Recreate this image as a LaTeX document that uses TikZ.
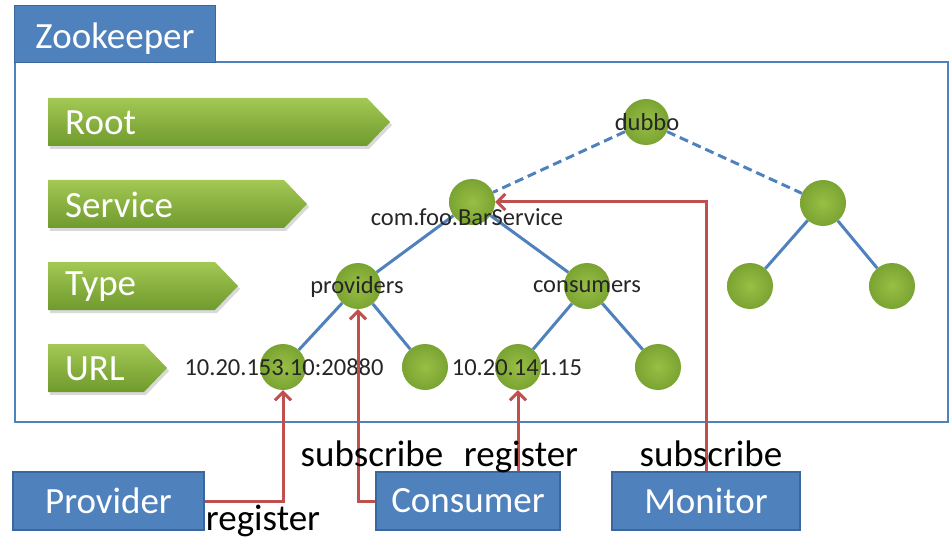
\documentclass[tikz,border=0pt]{standalone}
\usepackage{fontspec}
\setmainfont{Carlito}
\usetikzlibrary{arrows.meta}
\definecolor{zkblue}{HTML}{4F81BD}
\definecolor{zkborder}{HTML}{3A679E}
\definecolor{glight}{HTML}{A3C854}
\definecolor{gdark}{HTML}{6F9A2D}
\definecolor{ballin}{HTML}{98BF45}
\definecolor{ballout}{HTML}{7AA332}
\definecolor{arrred}{HTML}{C0504D}
\definecolor{txt}{HTML}{262626}
\begin{document}
\begin{tikzpicture}[x=1pt,y=-1pt,
  big/.style={font=\fontsize{37}{40}\selectfont},
  small/.style={font=\fontsize{24.5}{28}\selectfont, text=txt, inner sep=0pt},
  bluebox/.style={draw=zkborder, line width=1.5pt, fill=zkblue, text=white, inner sep=0pt, big},
  levelbar/.style={top color=glight, bottom color=gdark},
  barshadow/.style={fill=black, opacity=0.15},
  leveltext/.style={big, text=white, anchor=west, inner sep=0pt},
  ball/.style={circle, minimum size=46pt, inner sep=0pt, inner color=ballin, outer color=ballout},
  treeline/.style={draw=zkblue, line width=3pt},
  dashline/.style={draw=zkblue, line width=3pt, dash pattern=on 9pt off 5pt},
  redarrow/.style={draw=arrred, line width=3pt, -{Straight Barb[length=8pt,width=16pt]}},
]
\useasboundingbox (0,0) rectangle (952,545);

% main container
\node[draw=zkblue, line width=2.5pt, minimum width=933pt, minimum height=360pt, inner sep=0pt] (zkbox) at (481.5,242) {};
\node[bluebox, minimum width=201pt, minimum height=57pt, text depth=0pt] (zk) at (115,34) {\raisebox{-4pt}{Zookeeper}};

% level bars (soft shadows, then bars)
\path[barshadow] (50,101) -- (369,101) -- (392,125) -- (369,149) -- (50,149) -- cycle;
\path[barshadow] (50,183) -- (286,183) -- (309,207) -- (286,231) -- (50,231) -- cycle;
\path[barshadow] (50,265) -- (217,265) -- (240,289) -- (217,313) -- (50,313) -- cycle;
\path[barshadow] (50,347) -- (146,347) -- (169,371) -- (146,395) -- (50,395) -- cycle;
\path[levelbar] (48,98) -- (367,98) -- (390,122) -- (367,146) -- (48,146) -- cycle;
\node[leveltext] (root) at (65,123) {Root};
\path[levelbar] (48,180) -- (284,180) -- (307,204) -- (284,228) -- (48,228) -- cycle;
\node[leveltext] (service) at (65,205) {Service};
\path[levelbar] (48,262) -- (215,262) -- (238,286) -- (215,310) -- (48,310) -- cycle;
\node[leveltext] (type) at (65,287) {Type};
\path[levelbar] (48,344) -- (144,344) -- (167,368) -- (144,392) -- (48,392) -- cycle;
\node[leveltext] (url) at (65,369) {URL};

% tree nodes
\node[ball] (dubbo) at (646,122) {};
\node[ball] (svc) at (472,202) {};
\node[ball] (prov) at (358,286) {};
\node[ball] (cons) at (587,286) {};
\node[ball] (u1) at (283,367) {};
\node[ball] (u2) at (425,367) {};
\node[ball] (c1) at (518,367) {};
\node[ball] (c2) at (658,367) {};
\node[ball] (r) at (823,203) {};
\node[ball] (r1) at (750,286) {};
\node[ball] (r2) at (892,286) {};

% tree edges
\path[dashline] (dubbo) -- (svc);
\path[dashline] (dubbo) -- (r);
\path[treeline] (svc) -- (prov);
\path[treeline] (svc) -- (cons);
\path[treeline] (prov) -- (u1);
\path[treeline] (prov) -- (u2);
\path[treeline] (cons) -- (c1);
\path[treeline] (cons) -- (c2);
\path[treeline] (r) -- (r1);
\path[treeline] (r) -- (r2);

% tree labels
\node[small] (dubbolab) at (647,122) {dubbo};
\node[small] (svclab) at (467,217) {com.foo.BarService};
\node[small] (provlab) at (357,287) {providers};
\node[small] (conslab) at (587,287) {consumers};
\node[small] (u1lab) at (284,367) {10.20.153.10:20880};
\node[small] (c1lab) at (517,368) {10.20.141.15};

% client boxes
\node[bluebox, minimum width=191pt, minimum height=58pt] (provbox) at (108.5,501) {Provider};
\node[bluebox, minimum width=184pt, minimum height=58pt] (consbox) at (468,501) {Consumer};
\node[bluebox, minimum width=188pt, minimum height=58pt] (monbox) at (706,501) {Monitor};

% red connectors
\draw[redarrow] (provbox.east) -| (u1.south);
\draw[redarrow] (consbox.west) -| (prov.south);
\draw[redarrow] (c1 |- consbox.north) -- (c1.south);
\draw[redarrow] (monbox.north) |- (svc.east);

% connector labels
\node[big, anchor=base, inner sep=0pt] (reg1) at (263,530) {register};
\node[big, anchor=base, inner sep=0pt] (sub1) at (372,466) {subscribe};
\node[big, anchor=base, inner sep=0pt] (reg2) at (521,466) {register};
\node[big, anchor=base, inner sep=0pt] (sub2) at (711,466) {subscribe};
\end{tikzpicture}
\end{document}
